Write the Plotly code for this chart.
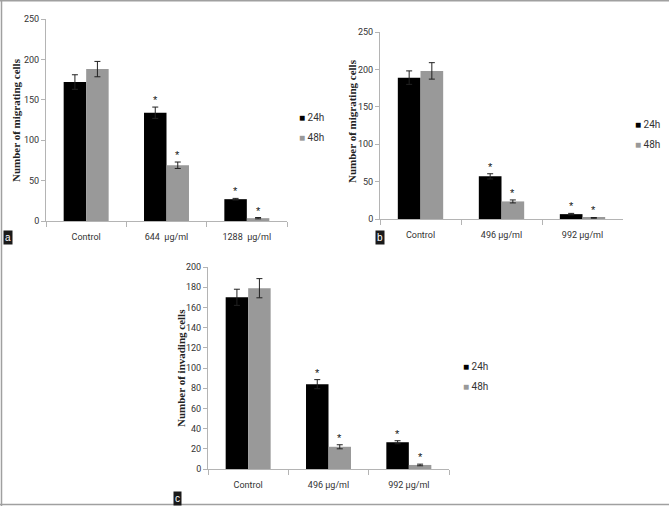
import plotly.graph_objects as go

W, H = 669, 506

# ---------------- data ----------------
cats_a = ["Control", "644  µg/ml", "1288  µg/ml"]
a_24 = [172, 134, 27]
a_24_err = [9, 7, 1]
a_48 = [188, 69, 3.5]
a_48_err = [9.5, 4, 0.8]
a_star_24 = [False, True, True]
a_star_48 = [False, True, True]

cats_b = ["Control", "496 µg/ml", "992 µg/ml"]
b_24 = [189, 57, 6.5]
b_24_err = [9, 3.5, 1]
b_48 = [198, 23.5, 1.5]
b_48_err = [11, 2, 0.5]
b_star_24 = [False, True, True]
b_star_48 = [False, True, True]

cats_c = ["Control", "496 µg/ml", "992 µg/ml"]
c_24 = [170, 84, 26.5]
c_24_err = [8, 4.5, 1.5]
c_48 = [179, 22, 4]
c_48_err = [9.5, 2, 0.8]
c_star_24 = [False, True, True]
c_star_48 = [False, True, True]

series_names = ["24h", "48h"]
ytitles = ["Number of migrating cells", "Number of migrating cells", "Number of invading cells"]
panel_labels = ["a", "b", "c"]

# ---------------- styling ----------------
C24 = "#000000"
C48 = "#999999"
AXC = "#b4b4b4"
TFAM = "Roboto, Liberation Sans, sans-serif"
TICKFONT = dict(family=TFAM, size=9, color="#333333")

def px_x(p):
    return p / W

def px_y(p):
    return 1 - p / H

# panel geometry (pixels)
panels = [
    dict(x0=46, x1=287, y0=221, y1=19, ymax=250, dtick=50, tx=16, ty=120,
         leg=(297, 117), lab=(8, 238)),
    dict(x0=380, x1=623, y0=219, y1=32, ymax=250, dtick=50, tx=352, ty=121,
         leg=(633, 124), lab=(380, 238)),
    dict(x0=208, x1=449, y0=469, y1=267, ymax=200, dtick=20, tx=181, ty=368,
         leg=(461, 366), lab=(177, 498)),
]

data = [
    (cats_a, a_24, a_24_err, a_48, a_48_err, a_star_24, a_star_48),
    (cats_b, b_24, b_24_err, b_48, b_48_err, b_star_24, b_star_48),
    (cats_c, c_24, c_24_err, c_48, c_48_err, c_star_24, c_star_48),
]

fig = go.Figure()
annotations = []
layout_upd = {}
BARGAP = 0.44
off = (1 - BARGAP) / 4  # center offset of each bar within category

for i, (p, d) in enumerate(zip(panels, data)):
    cats, v24, e24, v48, e48, s24, s48 = d
    sfx = "" if i == 0 else str(i + 1)
    xa, ya = "x" + sfx, "y" + sfx
    for name, vals, errs, col in [(series_names[0], v24, e24, C24), (series_names[1], v48, e48, C48)]:
        fig.add_trace(go.Bar(
            x=cats, y=vals, name=name, marker=dict(color=col, line=dict(width=0)),
            error_y=dict(type="data", array=errs, visible=True, color="#222222", thickness=1, width=3),
            xaxis=xa, yaxis=ya, showlegend=False,
        ))
    # asterisks
    for j in range(len(cats)):
        for k, (vals, errs, stars) in enumerate([(v24, e24, s24), (v48, e48, s48)]):
            if stars[j]:
                annotations.append(dict(
                    x=j + (-off if k == 0 else off), y=vals[j] + errs[j],
                    xref=xa, yref=ya, text="*", showarrow=False,
                    yanchor="bottom", xanchor="center", yshift=-1,
                    font=dict(family="Liberation Sans, sans-serif", size=11, color="#111111"),
                ))
    # legend (drawn as text with coloured squares)
    for k, (name, col) in enumerate([(series_names[0], C24), (series_names[1], C48)]):
        annotations.append(dict(
            x=px_x(p["leg"][0]), y=px_y(p["leg"][1] + 20 * k), xref="paper", yref="paper",
            text="<span style='color:%s'>■</span> %s" % (col, name), showarrow=False,
            xanchor="left", yanchor="middle",
            font=dict(family=TFAM, size=10, color="#333333"),
        ))
    # axes
    layout_upd["xaxis" + sfx] = dict(
        domain=[px_x(p["x0"]), px_x(p["x1"])], anchor=ya, type="category",
        range=[-0.5, len(cats) - 0.5], showline=True, linecolor=AXC, linewidth=1,
        ticks="outside", tickson="boundaries", ticklen=5, tickcolor=AXC,
        ticklabelstandoff=7, automargin=False,
        tickfont=TICKFONT, showgrid=False, zeroline=False, fixedrange=True,
    )
    layout_upd["yaxis" + sfx] = dict(
        domain=[px_y(p["y0"]), px_y(p["y1"])], anchor=xa, automargin=False,
        range=[0, p["ymax"]], dtick=p["dtick"], tick0=0, showline=True, linecolor=AXC,
        linewidth=1, ticks="outside", ticklen=4, tickcolor=AXC, tickfont=TICKFONT,
        showgrid=False, zeroline=False, fixedrange=True,
    )
    # y title
    annotations.append(dict(
        x=px_x(p["tx"]), y=px_y(p["ty"]), xref="paper", yref="paper",
        text="<b>" + ytitles[i] + "</b>", textangle=-90, showarrow=False,
        xanchor="center", yanchor="middle",
        font=dict(family="Liberation Serif, serif", size=11, color="#222222"),
    ))
    # panel label
    annotations.append(dict(
        x=px_x(p["lab"][0]), y=px_y(p["lab"][1]), xref="paper", yref="paper",
        text=panel_labels[i], showarrow=False, xanchor="center", yanchor="middle",
        bgcolor="#1a1a1a", borderpad=1,
        font=dict(family="Liberation Sans, sans-serif", size=10, color="#ffffff"),
    ))

shapes = [
    dict(type="line", xref="paper", yref="paper", x0=px_x(1.5), x1=px_x(1.5), y0=0, y1=1,
         line=dict(color="#a0a0a0", width=1.5)),
    dict(type="line", xref="paper", yref="paper", x0=0, x1=1, y0=px_y(0.8), y1=px_y(0.8),
         line=dict(color="#a0a0a0", width=1.5)),
    dict(type="line", xref="paper", yref="paper", x0=0, x1=1, y0=px_y(504.5), y1=px_y(504.5),
         line=dict(color="#a0a0a0", width=1.5)),
]

fig.update_layout(
    template="none",
    width=W, height=H, margin=dict(l=0, r=0, t=0, b=0, pad=0, autoexpand=False),
    paper_bgcolor="white", plot_bgcolor="white",
    barmode="group", bargap=BARGAP, bargroupgap=0,
    annotations=annotations, shapes=shapes, showlegend=False,
    **layout_upd,
)

fig.write_html(
    "out.html",
    config={"displayModeBar": False},
    post_script="document.body.style.margin='0';document.body.style.overflow='hidden';",
)
